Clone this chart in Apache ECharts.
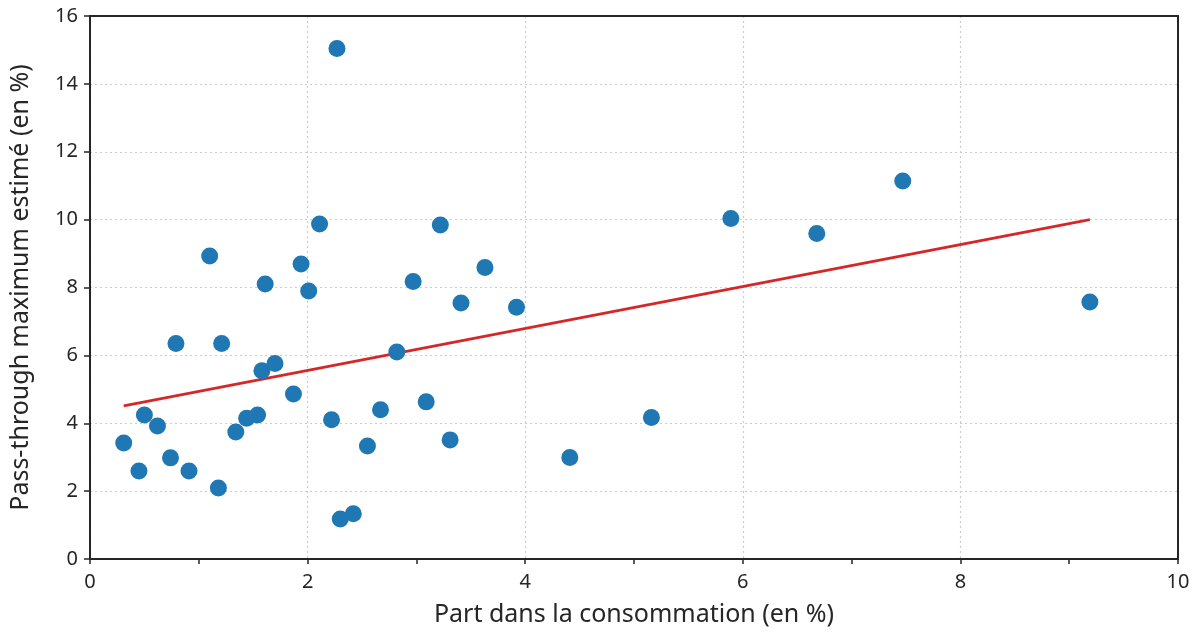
<!DOCTYPE html>
<html><head><meta charset="utf-8">
<script src="https://cdn.jsdelivr.net/npm/echarts@6/dist/echarts.min.js"></script>
<style>html,body{margin:0;padding:0;background:#fff}#c{width:1198px;height:632px}</style>
</head><body><div id="c"></div>
<script>
const xTitle = "Part dans la consommation (en %)";
const yTitle = "Pass-through maximum estimé (en %)";
const shareX = [0.31,0.45,0.50,0.62,0.74,0.79,0.91,1.10,1.18,1.21,1.34,1.44,1.54,1.58,1.61,1.70,1.87,1.94,2.01,2.11,2.22,2.27,2.30,2.42,2.55,2.67,2.82,2.97,3.09,3.22,3.31,3.41,3.63,3.92,4.41,5.16,5.89,6.68,7.47,9.19];
const passY = [3.42,2.59,4.24,3.92,2.98,6.35,2.59,8.93,2.09,6.35,3.74,4.15,4.24,5.55,8.10,5.76,4.86,8.69,7.90,9.87,4.10,15.04,1.18,1.33,3.33,4.40,6.10,8.18,4.63,9.84,3.51,7.54,8.59,7.42,2.99,4.17,10.03,9.59,11.14,7.57];
const trendX = [0.31, 9.19];
const trendY = [4.51, 10.0];

const font = "'Liberation Sans Narrow','Noto Sans',sans-serif";
const frameAxis = {show:true, onZero:false, lineStyle:{color:'#262626', width:2}};
const chart = echarts.init(document.getElementById('c'), null, {renderer:'canvas'});
chart.setOption({
  animation:false,
  grid:{left:89, right:20, top:16, bottom:73, show:false},
  xAxis:[{
    type:'value', min:0, max:10, interval:2, position:'bottom',
    name:xTitle, nameLocation:'middle', nameGap:43,
    nameTextStyle:{fontFamily:font, fontSize:25, color:'#262626'},
    axisLine:frameAxis,
    axisTick:{show:true, inside:false, length:5, lineStyle:{color:'#262626', width:1.5}},
    minorTick:{show:true, splitNumber:2, length:5, lineStyle:{color:'#262626', width:1.5}},
    axisLabel:{fontFamily:font, fontSize:20, color:'#262626', margin:13},
    splitLine:{show:true, lineStyle:{color:'#cccccc', width:1.2, type:[2,3]}}
  },{
    type:'value', min:0, max:10, interval:2, position:'top',
    axisLine:frameAxis, axisTick:{show:false}, axisLabel:{show:false}, splitLine:{show:false}
  }],
  yAxis:[{
    type:'value', min:0, max:16, interval:2, position:'left',
    name:yTitle, nameLocation:'middle', nameGap:57,
    nameTextStyle:{fontFamily:font, fontSize:25, color:'#262626'},
    axisLine:frameAxis,
    axisTick:{show:true, inside:false, length:6, lineStyle:{color:'#262626', width:1.5}},
    axisLabel:{fontFamily:font, fontSize:20, color:'#262626', margin:12},
    splitLine:{show:true, lineStyle:{color:'#cccccc', width:1.2, type:[2,3]}}
  },{
    type:'value', min:0, max:16, interval:2, position:'right',
    axisLine:frameAxis, axisTick:{show:false}, axisLabel:{show:false}, splitLine:{show:false}
  }],
  series:[
    {type:'line', data:trendX.map((x,i)=>[x,trendY[i]]), showSymbol:false, symbol:'none',
     lineStyle:{color:'#d62728', width:2.8}, z:3},
    {type:'scatter', data:shareX.map((x,i)=>[x,passY[i]]), symbolSize:17,
     itemStyle:{color:'#1f77b4', opacity:1}, z:4}
  ]
});
</script></body></html>
